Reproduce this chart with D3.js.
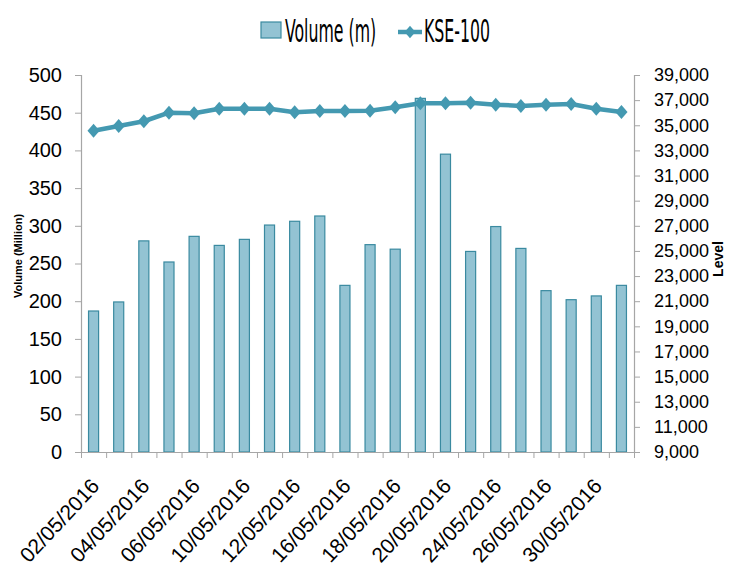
<!DOCTYPE html>
<html>
<head>
<meta charset="utf-8">
<script src="https://cdn.jsdelivr.net/npm/d3@7"></script>
<style>
  body { margin: 0; background: #fff; }
  svg { display: block; }
  .axis path, .axis line { stroke: #a6a6a6; }
</style>
</head>
<body>
<svg id="chart" width="735" height="574"></svg>
<script>
// trading days, May 2016
const dates = ["02/05/2016", "03/05/2016", "04/05/2016", "05/05/2016", "06/05/2016", "09/05/2016",
    "10/05/2016", "11/05/2016", "12/05/2016", "13/05/2016", "16/05/2016", "17/05/2016",
    "18/05/2016", "19/05/2016", "20/05/2016", "23/05/2016", "24/05/2016", "25/05/2016",
    "26/05/2016", "27/05/2016", "30/05/2016", "31/05/2016"];

// volume in millions of shares
const volume = [187, 199, 280, 252, 286, 274, 282, 301, 306, 313, 221, 275,
    269, 469, 395, 266, 299, 270, 214, 202, 207, 221];

// KSE-100 index level
const kse = [34570, 34940, 35320, 36000, 35950, 36320, 36320, 36310, 36030, 36140, 36140, 36160,
    36430, 36750, 36750, 36800, 36640, 36540, 36640, 36690, 36320, 36060];

const volTicks = d3.range(0, 501, 50);
const levelTicks = d3.range(9000, 39001, 2000);

const margin = {left: 81, right: 634, top: 75, bottom: 452};

const barFill = "#93c3d3", barStroke = "#3a8aa0", lineColor = "#4499b1";

const svg = d3.select("svg#chart");

const x = d3.scaleBand()
    .domain(dates)
    .range([margin.left, margin.right])
    .paddingInner(0.6)
    .paddingOuter(0.3);

// index scale for the category boundary ticks
const xi = d3.scaleLinear().domain([0, dates.length]).range([margin.left, margin.right]);

const yVol = d3.scaleLinear().domain([0, 500]).range([margin.bottom, margin.top]);
const yLevel = d3.scaleLinear().domain([9000, 39000]).range([margin.bottom, margin.top]);

const tickFont = "'Liberation Sans', Arial, sans-serif";

// left axis
const yAxisL = svg.append("g")
    .attr("class", "axis")
    .attr("transform", `translate(${margin.left},0)`)
    .call(d3.axisLeft(yVol).tickValues(volTicks).tickSize(6).tickPadding(13));
yAxisL.selectAll("text")
    .attr("font-family", tickFont)
    .attr("font-size", 20)
    .attr("fill", "#000");

// right axis
const yAxisR = svg.append("g")
    .attr("class", "axis")
    .attr("transform", `translate(${margin.right},0)`)
    .call(d3.axisRight(yLevel).tickValues(levelTicks).tickSize(6).tickPadding(14)
        .tickFormat(d3.format(",")));
yAxisR.selectAll("text")
    .attr("font-family", tickFont)
    .attr("font-size", 18)
    .attr("fill", "#000");

svg.selectAll(".axis path").attr("stroke-width", 1.2);

// bars
svg.append("g")
    .selectAll("rect")
    .data(volume)
    .enter()
    .append("rect")
    .attr("x", (d, i) => x(dates[i]))
    .attr("y", d => yVol(d))
    .attr("width", x.bandwidth())
    .attr("height", d => yVol(0) - yVol(d))
    .attr("fill", barFill)
    .attr("stroke", barStroke)
    .attr("stroke-width", 1.2);

// bottom axis: boundary ticks
const xAxis = svg.append("g")
    .attr("class", "axis")
    .attr("transform", `translate(0,${margin.bottom})`)
    .call(d3.axisBottom(xi).tickValues(d3.range(0, dates.length + 1)).tickSize(6).tickFormat(""));
xAxis.select(".domain").attr("d", `M${margin.left - 6},0.5H${margin.right}`);

// bottom labels on every other category
const labels = svg.append("g")
    .attr("transform", `translate(0,${margin.bottom})`)
    .call(d3.axisBottom(x).tickValues(dates.filter((d, i) => i % 2 === 0)).tickSize(0).tickPadding(0));
labels.select(".domain").remove();
labels.selectAll("text")
    .attr("font-family", tickFont)
    .attr("font-size", 21)
    .attr("fill", "#000")
    .attr("text-anchor", "end")
    .attr("dy", 0)
    .attr("transform", "translate(7,35) rotate(-47)");

// KSE-100 line
const line = d3.line()
    .x((d, i) => x(dates[i]) + x.bandwidth() / 2)
    .y(d => yLevel(d));

svg.append("path")
    .datum(kse)
    .attr("fill", "none")
    .attr("stroke", lineColor)
    .attr("stroke-width", 4.5)
    .attr("stroke-linejoin", "round")
    .attr("d", line);

svg.append("g")
    .selectAll("path")
    .data(kse)
    .enter()
    .append("path")
    .attr("d", d3.symbol(d3.symbolDiamond2, 95))
    .attr("transform", (d, i) => `translate(${x(dates[i]) + x.bandwidth() / 2},${yLevel(d)}) scale(1,1.15)`)
    .attr("fill", lineColor);

// axis titles
svg.append("text")
    .attr("transform", `translate(22,256) rotate(-90)`)
    .attr("text-anchor", "middle")
    .attr("font-family", tickFont)
    .attr("font-weight", "bold")
    .attr("font-size", 11)
    .text("Volume  (Million)");

svg.append("text")
    .attr("transform", `translate(723,259) rotate(-90)`)
    .attr("text-anchor", "middle")
    .attr("font-family", tickFont)
    .attr("font-weight", "bold")
    .attr("font-size", 14)
    .text("Level");

// legend (tall, narrow lettering)
const legendFont = "'Liberation Sans Narrow', 'DejaVu Sans Condensed', sans-serif";
const legend = svg.append("g").attr("class", "legend");

legend.append("rect")
    .attr("x", 261)
    .attr("y", 22)
    .attr("width", 20)
    .attr("height", 16)
    .attr("fill", barFill)
    .attr("stroke", barStroke)
    .attr("stroke-width", 1.2);

legend.append("text")
    .attr("transform", "translate(285,42) scale(0.73,1.3)")
    .attr("font-family", legendFont)
    .attr("font-size", 24)
    .text("Volume (m)");

legend.append("line")
    .attr("x1", 398)
    .attr("x2", 422)
    .attr("y1", 32)
    .attr("y2", 32)
    .attr("stroke", lineColor)
    .attr("stroke-width", 4.5);

legend.append("path")
    .attr("d", d3.symbol(d3.symbolDiamond2, 75))
    .attr("transform", "translate(410,32) scale(1,1.15)")
    .attr("fill", lineColor);

legend.append("text")
    .attr("transform", "translate(424,42) scale(0.73,1.3)")
    .attr("font-family", legendFont)
    .attr("font-size", 24)
    .text("KSE-100");
</script>
</body>
</html>
